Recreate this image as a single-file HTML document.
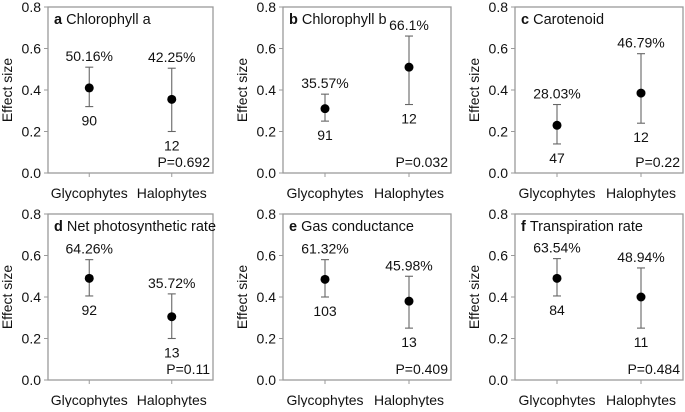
<!DOCTYPE html>
<html><head><meta charset="utf-8">
<style>
html,body{margin:0;padding:0;background:#fff;}
svg text{font-family:"Liberation Sans",Arial,sans-serif;fill:#111;}
</style></head>
<body>
<svg id="fig" width="685" height="407" viewBox="0 0 685 407" xmlns="http://www.w3.org/2000/svg"></svg>
<script>
const categories = ["Glycophytes","Halophytes"];
const yTicks = [0.0,0.2,0.4,0.6,0.8];
const panelLetters = ["a","b","c","d","e","f"];
const panelTitles = ["Chlorophyll a","Chlorophyll b","Carotenoid","Net photosynthetic rate","Gas conductance","Transpiration rate"];
const meanValues = [[0.41,0.355],[0.31,0.51],[0.23,0.385],[0.49,0.305],[0.485,0.38],[0.49,0.40]];
const lowerCI = [[0.32,0.20],[0.25,0.33],[0.14,0.24],[0.405,0.20],[0.40,0.25],[0.405,0.25]];
const upperCI = [[0.51,0.505],[0.38,0.66],[0.33,0.575],[0.58,0.415],[0.58,0.50],[0.585,0.54]];
const percentLabels = [["50.16%","42.25%"],["35.57%","66.1%"],["28.03%","46.79%"],["64.26%","35.72%"],["61.32%","45.98%"],["63.54%","48.94%"]];
const sampleSizes = [["90","12"],["91","12"],["47","12"],["92","13"],["103","13"],["84","11"]];
const pValues = ["P=0.692","P=0.032","P=0.22","P=0.11","P=0.409","P=0.484"];

const NS="http://www.w3.org/2000/svg";
const svg=document.getElementById('fig');
function mk(tag,attrs,parent,text){const e=document.createElementNS(NS,tag);for(const k in attrs)e.setAttribute(k,attrs[k]);if(text!==undefined)e.textContent=text;parent.appendChild(e);return e;}
const lefts=[48,283,515];
const widths=[165,168,168];
const tops=[7,214];
const H=166;
for(let p=0;p<6;p++){
  const col=p%3,row=Math.floor(p/3);
  const x0=lefts[col],w=widths[col],y0=tops[row];
  const g=mk('g',{},svg);
  
  
  const yS=v=>y0+H-(v/0.8)*H;
  const xS=i=>x0+w*(0.25+0.5*i);
  const box=mk('rect',{x:x0,y:y0,width:w,height:H,fill:'none',stroke:'#9a9a9a','stroke-width':1.3},g);
  
  
  yTicks.forEach(t=>{
    mk('line',{x1:x0-4,x2:x0,y1:yS(t),y2:yS(t),stroke:'#9a9a9a'},g);
    const tl=mk('text',{x:x0-7,y:yS(t)+5,'text-anchor':'end','font-size':14},g,t.toFixed(1));
    
    
  });
  const yt=mk('text',{x:0,y:0,'text-anchor':'middle','font-size':14,transform:`translate(${x0-36},${y0+H/2}) rotate(-90)`},g,'Effect size');
  
  
  const tt=mk('text',{x:x0+6,y:y0+17,'font-size':14.5},g);
  
  
  mk('tspan',{'font-weight':'bold'},tt,panelLetters[p]+'  ');
  mk('tspan',{},tt,panelTitles[p]);
  categories.forEach((c,i)=>{
    const x=xS(i);
    mk('line',{x1:x,x2:x,y1:y0+H,y2:y0+H+4,stroke:'#9a9a9a'},g);
    const cl=mk('text',{x:x,y:y0+H+25,'text-anchor':'middle','font-size':14},g,c);
    
    
    const yu=yS(upperCI[p][i]),yl=yS(lowerCI[p][i]);
    const eb=mk('g',{stroke:'#666','stroke-width':1.1},g);
    
    
    mk('line',{x1:x,x2:x,y1:yu,y2:yl},eb);
    mk('line',{x1:x-4,x2:x+4,y1:yu,y2:yu},eb);
    mk('line',{x1:x-4,x2:x+4,y1:yl,y2:yl},eb);
    const pt=mk('circle',{cx:x,cy:yS(meanValues[p][i]),r:4.5,fill:'#000'},g);
    
    
    const pl=mk('text',{x:x,y:yu-6,'text-anchor':'middle','font-size':14},g,percentLabels[p][i]);
    
    
    const nl=mk('text',{x:x,y:yl+19,'text-anchor':'middle','font-size':14},g,sampleSizes[p][i]);
    
    
  });
  const pv=mk('text',{x:x0+w-3,y:y0+H-6,'text-anchor':'end','font-size':14},g,pValues[p]);
  
  
}
</script>
</body></html>
